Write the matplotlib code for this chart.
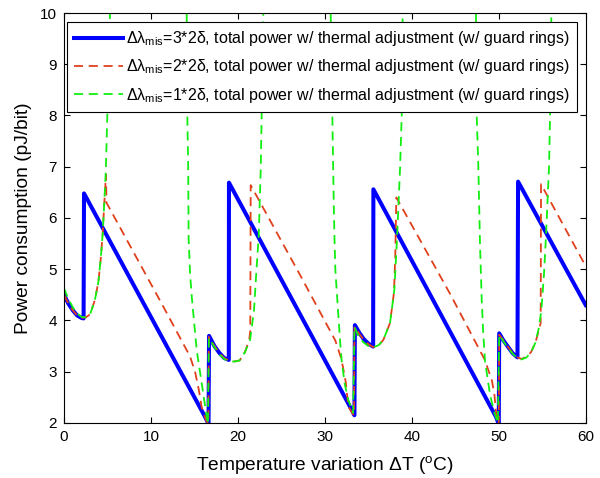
import numpy as np
import matplotlib
matplotlib.use('Agg')
from matplotlib import pyplot as plt

plt.rcParams['font.family'] = ['Liberation Sans', 'DejaVu Sans']
plt.rcParams['mathtext.fontset'] = 'custom'
plt.rcParams['mathtext.rm'] = 'Liberation Sans'
plt.rcParams['mathtext.it'] = 'Liberation Sans:italic'

nan = np.nan

# 3*2delta (blue, solid)
blue_x = [0, 0.5, 1.0, 1.5, 2.0, 2.25, 2.3,
          16.22, 16.62, 16.68, 17.3, 17.9, 18.4, 18.95, 18.97,
          33.2, 33.4, 33.45, 34.0, 34.5, 35.0, 35.55, 35.58,
          49.68, 50.0, 50.05, 50.5, 51.0, 51.6, 52.15, 52.22, 60.0]
blue_y = [4.5, 4.33, 4.2, 4.1, 4.05, 4.04, 6.48,
          2.12, 1.98, 3.70, 3.5, 3.36, 3.27, 3.23, 6.69,
          2.22, 2.15, 3.91, 3.75, 3.63, 3.55, 3.49, 6.56,
          2.12, 1.98, 3.75, 3.62, 3.5, 3.36, 3.28, 6.71, 4.30]

# 2*2delta (red, dashed)
red_x = [0, 0.5, 1.0, 1.5, 2.0, 2.5, 3.0, 3.55, 3.95, 4.22, 4.45, 4.6, 4.83, 4.88,
         11.42, 14.49, 15.07, 15.5, 15.84, 16.35, 16.6, 16.66,
         17.3, 17.9, 18.4, 18.95, 19.5, 20.2, 20.8, 21.3, 21.42, 21.47,
         27.14, 31.2, 31.9, 32.4, 32.7, 33.2, 33.35, 33.4,
         34.0, 34.5, 35.0, 35.55, 36.2, 36.72, 37.49, 37.95, 38.1, 38.22,
         44.4, 48.4, 48.8, 49.2, 49.5, 49.7, 50.0, 50.05,
         50.5, 51.0, 51.6, 52.13, 52.6, 53.2, 53.7, 54.2, 54.6, 54.82, 54.86, 60.0]
red_y = [4.5, 4.33, 4.2, 4.1, 4.05, 4.06, 4.12, 4.4, 4.75, 5.2, 5.7, 6.2, 6.85, 6.3,
         4.27, 3.3, 3.0, 2.65, 2.3, 2.05, 1.98, 3.68,
         3.5, 3.36, 3.27, 3.22, 3.2, 3.22, 3.38, 3.62, 3.8, 6.64,
         4.89, 3.61, 3.25, 2.8, 2.32, 2.18, 2.15, 3.88,
         3.73, 3.62, 3.54, 3.48, 3.52, 3.62, 3.95, 4.55, 5.3, 6.40,
         4.52, 3.23, 3.03, 2.84, 2.55, 2.19, 1.98, 3.72,
         3.62, 3.5, 3.36, 3.28, 3.25, 3.29, 3.38, 3.56, 3.8, 3.95, 6.66, 5.06]

# 1*2delta (green, dashed), nan where the curve leaves the plot
green_x = [0, 0.5, 1.0, 1.5, 2.0, 2.5, 3.0, 3.55, 3.95, 4.22, 4.45, 4.6, 4.8, 4.98, 5.1, 5.29, nan,
           14.11, 14.18, 14.28, 14.33, 14.5, 14.7, 15.26, 15.84, 16.41, 16.55, 16.66,
           17.3, 17.9, 18.5, 19.2, 19.7, 20.2, 20.8, 21.4, 21.85, 22.1, 22.39, 22.62, 22.73, 22.92, nan,
           30.67, 30.86, 31.0, 31.09, 31.2, 31.55, 31.75, 31.94, 32.3, 32.7, 33.25, 33.4,
           33.9, 34.4, 35.0, 35.6, 36.2, 36.72, 37.49, 37.69, 37.99, 38.3, 38.45, 38.64, 38.84, 38.95, nan,
           47.38, 47.46, 47.65, 47.84, 48.04, 48.2, 48.42, 49.0, 49.5, 49.9, 50.05,
           50.5, 51.0, 51.6, 52.13, 52.6, 53.2, 53.7, 54.2, 54.6, 54.9, 55.2, 55.43, 55.78, 55.9, 56.05]
green_y = [4.63, 4.42, 4.26, 4.14, 4.07, 4.06, 4.12, 4.4, 4.75, 5.2, 5.7, 6.2, 6.9, 8.0, 9.0, 10.0, nan,
           10.0, 8.0, 7.0, 5.6, 4.9, 4.45, 3.42, 2.77, 2.12, 1.98, 3.66,
           3.48, 3.33, 3.24, 3.2, 3.2, 3.22, 3.38, 3.62, 4.2, 4.9, 5.64, 6.94, 8.0, 10.0, nan,
           10.0, 8.0, 6.5, 5.7, 5.0, 4.1, 3.6, 3.2, 2.75, 2.45, 2.2, 3.88,
           3.68, 3.58, 3.5, 3.48, 3.52, 3.62, 3.95, 4.2, 4.6, 5.6, 6.2, 6.94, 8.0, 10.0, nan,
           10.0, 8.0, 7.0, 5.5, 4.4, 3.8, 3.2, 2.55, 2.2, 2.0, 3.72,
           3.6, 3.48, 3.35, 3.27, 3.24, 3.28, 3.38, 3.56, 3.85, 4.2, 4.9, 5.64, 7.0, 8.0, 10.0]

labels = [r'Δλ$_{\mathrm{mis}}$=3*2δ, total power w/ thermal adjustment (w/ guard rings)',
          r'Δλ$_{\mathrm{mis}}$=2*2δ, total power w/ thermal adjustment (w/ guard rings)',
          r'Δλ$_{\mathrm{mis}}$=1*2δ, total power w/ thermal adjustment (w/ guard rings)']

fig = plt.figure(figsize=(6, 4.78), dpi=100)
ax = fig.add_axes([0.1067, 0.1151, 0.8695, 0.8577])

ax.plot(blue_x, blue_y, '-', color='#0000ff', lw=2.9, label=labels[0])
ax.plot(red_x, red_y, '--', color='#e0401c', lw=1.3, dashes=(5, 3.2), label=labels[1])
ax.plot(green_x, green_y, '--', color='#11ee11', lw=1.3, dashes=(5, 3.2), label=labels[2])

ax.set_xlim(0, 60)
ax.set_ylim(2, 10)
ax.set_xticks(range(0, 61, 10))
ax.set_yticks(range(2, 11))
ax.tick_params(direction='in', top=True, right=True, length=4, width=0.8, labelsize=11, pad=5)
for s in ax.spines.values():
    s.set_linewidth(0.8)

ax.set_xlabel(r'Temperature variation ΔT ($^{\mathrm{o}}$C)', fontsize=13.8, labelpad=7)
ax.set_ylabel('Power consumption (pJ/bit)', fontsize=13.8, labelpad=6)

leg = ax.legend(loc='upper left', bbox_to_anchor=(0.006, 0.978), fontsize=11.5,
                handlelength=3.05, handletextpad=0.2, borderpad=0.45, labelspacing=0.58,
                borderaxespad=0, fancybox=False, framealpha=1, edgecolor='black')
leg.get_frame().set_linewidth(0.8)

fig.savefig('out.png', dpi=100)
